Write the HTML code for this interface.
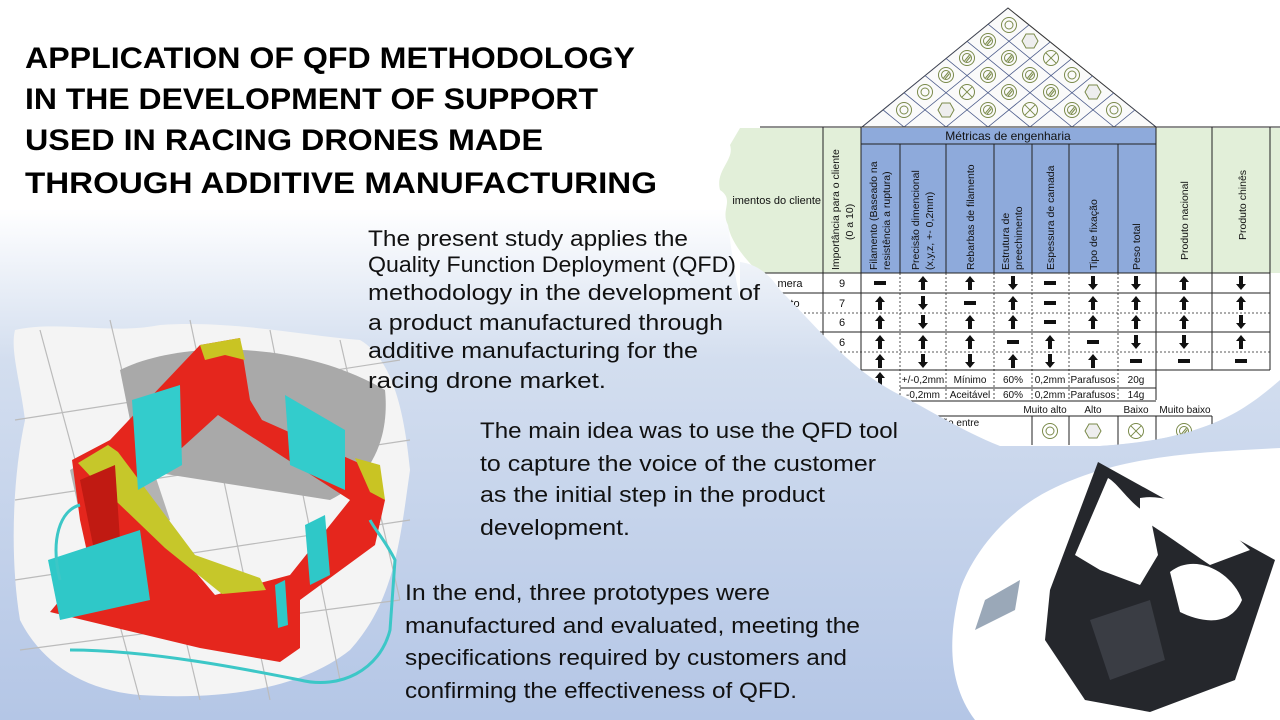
<!DOCTYPE html>
<html><head><meta charset="utf-8"><style>
html,body{margin:0;padding:0;width:1280px;height:720px;overflow:hidden;background:#fff}
svg{display:block}
</style></head><body>
<svg width="1280" height="720" viewBox="0 0 1280 720" xmlns="http://www.w3.org/2000/svg" font-family="'Liberation Sans', sans-serif">
<defs>
<linearGradient id="bg" gradientUnits="userSpaceOnUse" x1="0" y1="0" x2="0" y2="720">
<stop offset="0" stop-color="#fff"/><stop offset="0.29" stop-color="#fff"/><stop offset="0.5" stop-color="#d3deef"/><stop offset="1" stop-color="#b4c6e6"/>
</linearGradient>
<g id="u"><polygon points="0,-7 5,-1 2,-1 2,7 -2,7 -2,-1 -5,-1" fill="#111"/></g>
<g id="d"><polygon points="0,7 5,1 2,1 2,-7 -2,-7 -2,1 -5,1" fill="#111"/></g>
<g id="m"><rect x="-6" y="-2" width="12" height="4" fill="#111"/></g>
<g id="sc" fill="none" stroke="#7a8a4a" stroke-width="1"><circle r="7.5"/><circle r="4"/></g>
<g id="sh" fill="#eee" stroke="#7a8a4a" stroke-width="1"><polygon points="-8,0 -4,-7 4,-7 8,0 4,7 -4,7"/></g>
<g id="sx" fill="none" stroke="#7a8a4a" stroke-width="1"><circle r="7.5"/><line x1="-5.3" y1="-5.3" x2="5.3" y2="5.3"/><line x1="5.3" y1="-5.3" x2="-5.3" y2="5.3"/></g>
<g id="ss" fill="none" stroke="#7a8a4a" stroke-width="1"><circle r="7.5"/><circle r="4.5"/><line x1="-2.5" y1="3" x2="2.5" y2="-3"/><line x1="-1" y1="4" x2="3.5" y2="-1.5"/></g>
<clipPath id="tri"><polygon points="862,127 1008,8 1156,127"/></clipPath>
</defs>
<rect width="1280" height="720" fill="url(#bg)"/>

<!-- white blob behind table -->
<path d="M730,130 L1280,120 L1280,385 C1230,420 1190,440 1100,446 L900,446 C850,420 800,360 740,300 C730,250 720,180 730,130 Z" fill="#fff"/>

<!-- roof -->
<polygon points="862,127 1008,8 1156,127" fill="#fafafa" stroke="#333" stroke-width="1"/>
<g clip-path="url(#tri)" stroke="#4a5a8a" stroke-width="0.8">
<line x1="862" y1="127" x2="1162" y2="-118"/><line x1="904" y1="127" x2="1204" y2="-118"/><line x1="946" y1="127" x2="1246" y2="-118"/><line x1="988" y1="127" x2="1288" y2="-118"/><line x1="1030" y1="127" x2="1330" y2="-118"/><line x1="1072" y1="127" x2="1372" y2="-118"/><line x1="1114" y1="127" x2="1414" y2="-118"/>
<line x1="1156" y1="127" x2="856" y2="-118"/><line x1="1114" y1="127" x2="814" y2="-118"/><line x1="1072" y1="127" x2="772" y2="-118"/><line x1="1030" y1="127" x2="730" y2="-118"/><line x1="988" y1="127" x2="688" y2="-118"/><line x1="946" y1="127" x2="646" y2="-118"/><line x1="904" y1="127" x2="604" y2="-118"/>
</g>
<use href="#sc" x="904" y="110"/><use href="#sh" x="946" y="110"/><use href="#ss" x="988" y="110"/><use href="#sx" x="1030" y="110"/><use href="#ss" x="1072" y="110"/><use href="#sc" x="1114" y="110"/>
<use href="#sc" x="925" y="92"/><use href="#sx" x="967" y="92"/><use href="#ss" x="1009" y="92"/><use href="#ss" x="1051" y="92"/><use href="#sh" x="1093" y="92"/>
<use href="#ss" x="946" y="75"/><use href="#ss" x="988" y="75"/><use href="#ss" x="1030" y="75"/><use href="#sc" x="1072" y="75"/>
<use href="#ss" x="967" y="58"/><use href="#ss" x="1009" y="58"/><use href="#sx" x="1051" y="58"/>
<use href="#ss" x="988" y="41"/><use href="#sh" x="1030" y="41"/>
<use href="#sc" x="1009" y="25"/>

<!-- table header -->
<path d="M740,128 L823,128 L823,273 L760,273 C745,260 730,240 728,225 C720,210 735,200 720,190 C715,170 735,160 730,145 Z" fill="#e2efd9"/>
<rect x="823" y="128" width="38" height="145" fill="#e2efd9"/>
<rect x="861" y="128" width="295" height="145" fill="#8eaadb"/>
<rect x="1156" y="128" width="124" height="145" fill="#e2efd9"/>
<g stroke="#222" stroke-width="1" fill="none">
<line x1="760" y1="127" x2="1280" y2="127"/>
<line x1="861" y1="144" x2="1156" y2="144"/>
<line x1="760" y1="273" x2="1270" y2="273"/>
<line x1="823" y1="127" x2="823" y2="400"/><line x1="861" y1="127" x2="861" y2="400"/>
<line x1="900" y1="144" x2="900" y2="273"/><line x1="946" y1="144" x2="946" y2="273"/><line x1="994" y1="144" x2="994" y2="273"/><line x1="1032" y1="144" x2="1032" y2="273"/><line x1="1069" y1="144" x2="1069" y2="273"/><line x1="1118" y1="144" x2="1118" y2="273"/>
<line x1="1156" y1="127" x2="1156" y2="400"/><line x1="1212" y1="127" x2="1212" y2="370"/><line x1="1270" y1="127" x2="1270" y2="370"/>
<line x1="760" y1="293" x2="1270" y2="293"/><line x1="760" y1="332" x2="1270" y2="332"/><line x1="760" y1="370" x2="1270" y2="370"/>
<line x1="900" y1="388" x2="1156" y2="388"/><line x1="900" y1="401" x2="1156" y2="401"/>
</g>
<g stroke="#222" stroke-width="0.8" stroke-dasharray="2,2" fill="none">
<line x1="760" y1="313" x2="1270" y2="313"/><line x1="760" y1="352" x2="1270" y2="352"/>
<line x1="900" y1="273" x2="900" y2="401"/><line x1="946" y1="273" x2="946" y2="401"/><line x1="994" y1="273" x2="994" y2="401"/><line x1="1032" y1="273" x2="1032" y2="401"/><line x1="1069" y1="273" x2="1069" y2="401"/><line x1="1118" y1="273" x2="1118" y2="401"/>
</g>
<text x="1008" y="140" font-size="12" text-anchor="middle" fill="#111">Métricas de engenharia</text>
<text x="821" y="204" font-size="11" text-anchor="end" fill="#111">imentos do cliente</text>
<g font-size="10.5" fill="#111">
<text transform="translate(839,270) rotate(-90)">Importância para o cliente</text>
<text transform="translate(853,240) rotate(-90)">(0 a 10)</text>
<text transform="translate(877,270) rotate(-90)">Filamento (Baseado na</text>
<text transform="translate(890,270) rotate(-90)">resistência a ruptura)</text>
<text transform="translate(919,270) rotate(-90)">Precisão dimencional</text>
<text transform="translate(933,270) rotate(-90)">(x,y,z, +- 0,2mm)</text>
<text transform="translate(974,270) rotate(-90)">Rebarbas de filamento</text>
<text transform="translate(1009,270) rotate(-90)">Estrutura de</text>
<text transform="translate(1022,270) rotate(-90)">preechimento</text>
<text transform="translate(1054,270) rotate(-90)">Espessura de camada</text>
<text transform="translate(1097,270) rotate(-90)">Tipo de fixação</text>
<text transform="translate(1140,270) rotate(-90)">Peso total</text>
<text transform="translate(1188,260) rotate(-90)">Produto nacional</text>
<text transform="translate(1246,240) rotate(-90)">Produto chinês</text>
</g>
<g font-size="11" fill="#111" text-anchor="middle">
<text x="842" y="287">9</text><text x="842" y="307">7</text><text x="842" y="326">6</text><text x="842" y="346">6</text>
<text x="790" y="287">mera</text><text x="795" y="307">to</text>
</g>
<g>
<use href="#m" x="880" y="283"/><use href="#u" x="923" y="283"/><use href="#u" x="970" y="283"/><use href="#d" x="1013" y="283"/><use href="#m" x="1050" y="283"/><use href="#d" x="1093" y="283"/><use href="#d" x="1136" y="283"/><use href="#u" x="1184" y="283"/><use href="#d" x="1241" y="283"/>
<use href="#u" x="880" y="303"/><use href="#d" x="923" y="303"/><use href="#m" x="970" y="303"/><use href="#u" x="1013" y="303"/><use href="#m" x="1050" y="303"/><use href="#u" x="1093" y="303"/><use href="#u" x="1136" y="303"/><use href="#u" x="1184" y="303"/><use href="#u" x="1241" y="303"/>
<use href="#u" x="880" y="322"/><use href="#d" x="923" y="322"/><use href="#u" x="970" y="322"/><use href="#u" x="1013" y="322"/><use href="#m" x="1050" y="322"/><use href="#u" x="1093" y="322"/><use href="#u" x="1136" y="322"/><use href="#u" x="1184" y="322"/><use href="#d" x="1241" y="322"/>
<use href="#u" x="880" y="342"/><use href="#u" x="923" y="342"/><use href="#u" x="970" y="342"/><use href="#m" x="1013" y="342"/><use href="#u" x="1050" y="342"/><use href="#m" x="1093" y="342"/><use href="#d" x="1136" y="342"/><use href="#d" x="1184" y="342"/><use href="#u" x="1241" y="342"/>
<use href="#u" x="880" y="361"/><use href="#d" x="923" y="361"/><use href="#d" x="970" y="361"/><use href="#u" x="1013" y="361"/><use href="#d" x="1050" y="361"/><use href="#u" x="1093" y="361"/><use href="#m" x="1136" y="361"/><use href="#m" x="1184" y="361"/><use href="#m" x="1241" y="361"/>
<use href="#u" x="880" y="379"/>
</g>
<g font-size="10" fill="#111" text-anchor="middle">
<text x="923" y="383">+/-0,2mm</text><text x="970" y="383">Mínimo</text><text x="1013" y="383">60%</text><text x="1050" y="383">0,2mm</text><text x="1093" y="383">Parafusos</text><text x="1136" y="383">20g</text>
<text x="923" y="398">-0,2mm</text><text x="970" y="398">Aceitável</text><text x="1013" y="398">60%</text><text x="1050" y="398">0,2mm</text><text x="1093" y="398">Parafusos</text><text x="1136" y="398">14g</text>
<text x="1045" y="413">Muito alto</text><text x="1093" y="413">Alto</text><text x="1136" y="413">Baixo</text><text x="1185" y="413">Muito baixo</text>
<text x="905" y="413">tro</text><text x="950" y="426">relação entre</text>
</g>
<g stroke="#222" stroke-width="1" fill="none">
<line x1="900" y1="416" x2="1212" y2="416"/>
<line x1="1032" y1="416" x2="1032" y2="445"/><line x1="1069" y1="416" x2="1069" y2="445"/><line x1="1118" y1="416" x2="1118" y2="445"/><line x1="1156" y1="416" x2="1156" y2="445"/><line x1="1212" y1="416" x2="1212" y2="445"/>
</g>
<use href="#sc" x="1050" y="431"/><use href="#sh" x="1093" y="431"/><use href="#sx" x="1136" y="431"/><use href="#ss" x="1184" y="431"/>

<!-- blue overlays on table (same gradient as page) -->
<path d="M740,262 C755,264 768,272 780,290 C820,330 850,370 900,395 C930,410 960,430 1000,446 L1000,460 L740,460 Z" fill="url(#bg)"/>
<path d="M1280,380 C1240,415 1200,440 1100,446 L1280,446 Z" fill="url(#bg)"/>
<rect x="740" y="446" width="540" height="10" fill="url(#bg)"/>

<!-- photo blob -->
<path d="M1280,448 C1200,452 1120,455 1050,490 C1000,515 970,560 960,590 C950,630 945,680 975,720 L1280,720 Z" fill="#fff"/>
<polygon points="985,600 1020,580 1015,610 975,630" fill="#9aa8b8"/>
<path d="M1098,462 L1275,560 L1235,680 L1150,712 L1085,700 L1045,640 L1050,590 Z" fill="#25272c"/>
<path d="M1108,478 C1120,485 1130,505 1150,515 L1158,555 L1140,585 L1100,570 L1075,555 Z" fill="#fff"/>
<path d="M1140,498 C1175,492 1220,520 1250,550 L1210,565 C1185,548 1160,530 1140,518 Z" fill="#fff"/>
<path d="M1170,572 C1195,552 1232,572 1242,600 C1230,628 1200,622 1180,612 Z" fill="#fff"/>
<path d="M1090,620 L1150,600 L1165,660 L1110,680 Z" fill="#3a3d44"/>

<!-- drone render -->
<path d="M15,330 C60,320 110,335 160,325 C230,320 300,335 360,340 C395,360 405,420 410,470 C400,540 395,600 350,650 C300,690 220,700 140,695 C80,690 40,660 20,620 C10,560 12,480 25,420 C20,380 10,350 15,330 Z" fill="#f4f4f4"/>
<g stroke="#bbb" stroke-width="1.2">
<line x1="40" y1="330" x2="140" y2="700"/><line x1="110" y1="320" x2="200" y2="700"/><line x1="190" y1="320" x2="270" y2="700"/><line x1="270" y1="330" x2="340" y2="680"/><line x1="340" y1="340" x2="400" y2="600"/>
<line x1="15" y1="420" x2="400" y2="360"/><line x1="15" y1="500" x2="410" y2="440"/><line x1="15" y1="580" x2="410" y2="520"/><line x1="20" y1="650" x2="400" y2="600"/>
</g>
<path d="M120,370 C180,340 300,340 385,390 C390,440 370,480 330,500 L140,470 Z" fill="#a9a9a9"/>
<path d="M70,470 L140,430 L170,520 L90,560 Z" fill="#b3b3b3"/>
<path d="M72,460 L110,440 L200,345 L240,338 L250,400 L262,420 L370,468 L385,500 L375,545 L300,600 L300,648 L280,662 L200,648 L50,612 L60,600 L95,588 L80,520 Z M130,495 L218,415 L350,500 L290,575 L215,595 Z" fill="#e5261d" fill-rule="evenodd"/>
<path d="M200,345 L240,338 L245,360 L225,355 L205,360 Z" fill="#c9c423"/>
<path d="M78,463 L108,445 L118,452 L195,555 L260,578 L266,590 L222,594 L165,548 L92,478 Z" fill="#c6c72a"/>
<path d="M355,458 L380,465 L385,500 L370,492 Z" fill="#c9c423"/>
<path d="M80,480 L115,465 L120,540 L95,555 Z" fill="#c01a12"/>
<polygon points="132,400 180,385 182,465 138,490" fill="#33cccc"/>
<polygon points="285,395 345,430 345,490 290,465" fill="#33cccc"/>
<polygon points="48,560 140,530 150,600 60,620" fill="#2fc8c8"/>
<polygon points="305,525 325,515 330,575 310,585" fill="#2fc8c8"/>
<polygon points="275,585 285,580 288,625 278,628" fill="#2fc8c8"/>
<path d="M70,650 C150,650 250,670 300,680 C340,690 380,670 390,630 L395,560 C385,540 375,530 370,520" fill="none" stroke="#3cc7c7" stroke-width="3"/>
<path d="M60,580 C50,540 60,510 80,505" fill="none" stroke="#3cc7c7" stroke-width="3"/>

<!-- Title -->
<g font-weight="bold" font-size="30" fill="#000">
<text x="25" y="68" textLength="610" lengthAdjust="spacingAndGlyphs">APPLICATION OF QFD METHODOLOGY</text>
<text x="25" y="109" textLength="573" lengthAdjust="spacingAndGlyphs">IN THE DEVELOPMENT OF SUPPORT</text>
<text x="25" y="150" textLength="518" lengthAdjust="spacingAndGlyphs">USED IN RACING DRONES MADE</text>
<text x="25" y="193" textLength="632" lengthAdjust="spacingAndGlyphs">THROUGH ADDITIVE MANUFACTURING</text>
</g>
<!-- body -->
<g font-size="22" fill="#111">
<text x="368" y="246" textLength="320" lengthAdjust="spacingAndGlyphs">The present study applies the</text>
<text x="368" y="272" textLength="368" lengthAdjust="spacingAndGlyphs">Quality Function Deployment (QFD)</text>
<text x="368" y="300" textLength="392" lengthAdjust="spacingAndGlyphs">methodology in the development of</text>
<text x="368" y="330" textLength="355" lengthAdjust="spacingAndGlyphs">a product manufactured through</text>
<text x="368" y="358" textLength="330" lengthAdjust="spacingAndGlyphs">additive manufacturing for the</text>
<text x="368" y="388" textLength="238" lengthAdjust="spacingAndGlyphs">racing drone market.</text>
<text x="480" y="438" textLength="418" lengthAdjust="spacingAndGlyphs">The main idea was to use the QFD tool</text>
<text x="480" y="471" textLength="396" lengthAdjust="spacingAndGlyphs">to capture the voice of the customer</text>
<text x="480" y="502" textLength="345" lengthAdjust="spacingAndGlyphs">as the initial step in the product</text>
<text x="480" y="535" textLength="150" lengthAdjust="spacingAndGlyphs">development.</text>
<text x="405" y="600" textLength="365" lengthAdjust="spacingAndGlyphs">In the end, three prototypes were</text>
<text x="405" y="633" textLength="455" lengthAdjust="spacingAndGlyphs">manufactured and evaluated, meeting the</text>
<text x="405" y="665" textLength="442" lengthAdjust="spacingAndGlyphs">specifications required by customers and</text>
<text x="405" y="698" textLength="392" lengthAdjust="spacingAndGlyphs">confirming the effectiveness of QFD.</text>
</g>
</svg>
</body></html>
